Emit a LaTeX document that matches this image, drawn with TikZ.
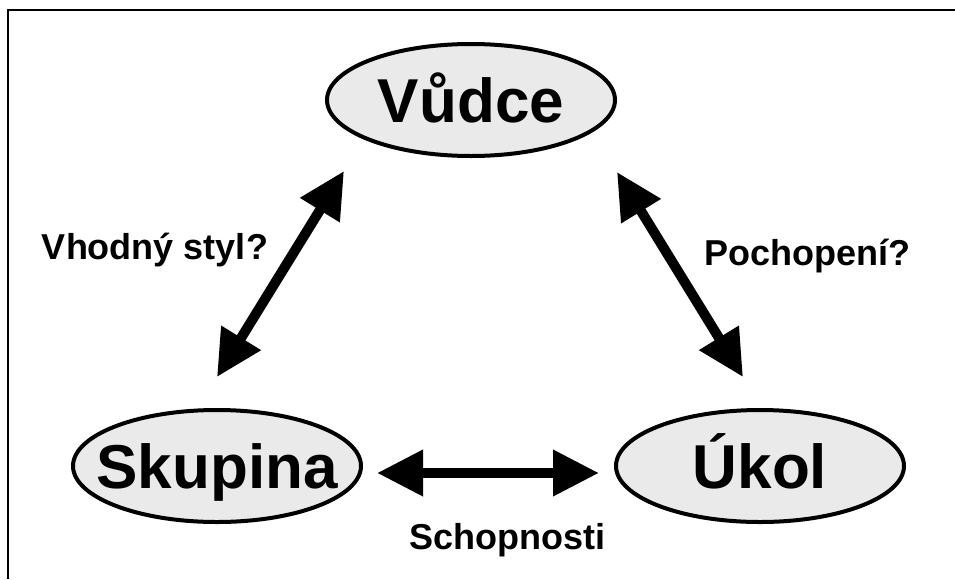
\documentclass[tikz,border=0pt]{standalone}
\usepackage{fontspec}
\setmainfont{Liberation Sans}
\usetikzlibrary{shapes.geometric,positioning,arrows.meta}
\definecolor{bubblegray}{RGB}{234,234,234}

\begin{document}
\begin{tikzpicture}[x=1pt,y=-1pt,on grid,
    role/.style={ellipse,draw,line width=4pt,fill=bubblegray,
      minimum width=288pt,minimum height=112pt,inner xsep=-22pt,inner ysep=0pt,
      font=\fontsize{62}{62}\selectfont\bfseries,text height=45pt,text depth=0pt},
    question/.style={anchor=base,font=\fontsize{36}{36}\selectfont\bfseries},
    link/.style={{Triangle[length=46pt,width=44pt]}-{Triangle[length=46pt,width=44pt]},line width=10pt}]
  \useasboundingbox (0,0) rectangle (955,579);
  \draw[line width=2.5pt] (955,10) -- (8,10) -- (8,579);

  \node[role] (vudce) at (471,100) {Vůdce};
  \node[role] (skupina) [below left=366pt and 254pt of vudce] {Skupina};
  \node[role] (ukol) [right=543pt of skupina] {Úkol};

  % arrow ends
  \coordinate (sk_vu) at (217,377);
  \coordinate (vu_sk) at (344,171);
  \coordinate (vu_uk) at (617,172);
  \coordinate (uk_vu) at (743,377);
  \coordinate (sk_uk) at (377,473);
  \coordinate (uk_sk) at (599,473);

  \draw[link] (sk_vu) -- (vu_sk);
  \draw[link] (vu_uk) -- (uk_vu);
  \draw[link] (sk_uk) -- (uk_sk);

  \node[question] (styl) at (155,259) {Vhodný styl?};
  \node[question] (pochopeni) at (807,265) {Pochopení?};
  \node[question] (schopnosti) at (507,549) {Schopnosti};
\end{tikzpicture}
\end{document}
